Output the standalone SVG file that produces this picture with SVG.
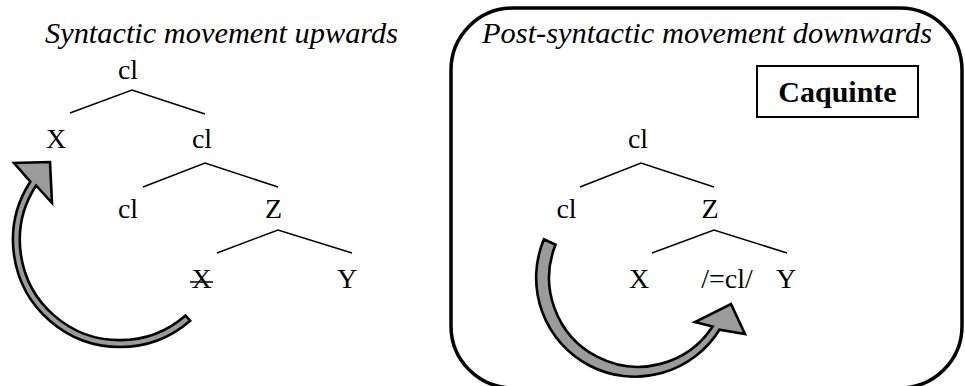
<svg xmlns="http://www.w3.org/2000/svg" width="965" height="386" viewBox="0 0 965 386">
<style>
  .t { font-family: 'Liberation Serif', 'Times New Roman', serif; font-size: 28px; fill: #000; text-anchor: middle; }
  .title { font-family: 'Liberation Serif', 'Times New Roman', serif; font-size: 29px; font-style: italic; fill: #000; }
  .bold { font-family: 'Liberation Serif', 'Times New Roman', serif; font-size: 30px; font-weight: bold; fill: #000; text-anchor: middle; }
  .edge { stroke: #000; stroke-width: 1.5; fill: none; }
  .arrow { fill: #9b9b9b; stroke: #000; stroke-width: 2.6; stroke-linejoin: miter; }
</style>
<rect width="965" height="386" fill="#fff"/>

<g id="panel-right">
  <rect x="451" y="8" width="511" height="380" rx="62" ry="62" fill="none" stroke="#000" stroke-width="3.5"/>
</g>

<g id="title-left">
  <text class="title" x="45" y="43" textLength="353" lengthAdjust="spacingAndGlyphs">Syntactic movement upwards</text>
</g>
<g id="title-right">
  <text class="title" x="482" y="43" textLength="450" lengthAdjust="spacingAndGlyphs">Post-syntactic movement downwards</text>
</g>

<g id="caquinte">
  <rect x="757" y="66" width="161" height="51" fill="none" stroke="#000" stroke-width="2"/>
  <text class="bold" x="837.5" y="102">Caquinte</text>
</g>

<g id="L-cl-root"><text class="t" x="128" y="79">cl</text></g>
<g id="L-X"><text class="t" x="56" y="148">X</text></g>
<g id="L-cl-2"><text class="t" x="202" y="148">cl</text></g>
<g id="L-cl-3"><text class="t" x="128" y="218">cl</text></g>
<g id="L-Z"><text class="t" x="273.5" y="218">Z</text></g>
<g id="L-X-trace">
  <text class="t" x="201.5" y="288">X</text>
  <line x1="190" y1="282" x2="213" y2="282" stroke="#000" stroke-width="1.5"/>
</g>
<g id="L-Y"><text class="t" x="347" y="288">Y</text></g>

<g id="R-cl-root"><text class="t" x="638" y="148">cl</text></g>
<g id="R-cl"><text class="t" x="566.5" y="218">cl</text></g>
<g id="R-Z"><text class="t" x="710" y="218">Z</text></g>
<g id="R-X"><text class="t" x="639" y="288">X</text></g>
<g id="R-cl-clitic"><text class="t" x="727" y="288">/=cl/</text></g>
<g id="R-Y"><text class="t" x="786" y="288">Y</text></g>

<g id="connectors">
  <polyline class="edge" points="70,113 132,90 205,114"/>
  <polyline class="edge" points="143,187 205,163 278,187"/>
  <polyline class="edge" points="217,253 278,230 352,253"/>
  <polyline class="edge" points="580,187 641,163 714,187"/>
  <polyline class="edge" points="652,253 714,230 787,253"/>
  <path id="arrow-up" class="arrow" d="M190.2,320.8 A107,107 0 0 1 30.3,181.7 L14,163 L50,162 L52,203 L36.1,185.5 A100,100 0 0 0 185.6,315.5 Z"/>
  <path id="arrow-down" class="arrow" d="M543.9,239.3 A99,99 0 0 0 719.4,329.7 L745,334 L731,304 L695,322 L712.6,326.5 A89,89 0 0 1 555.5,244.7 Z"/>
</g>
</svg>
